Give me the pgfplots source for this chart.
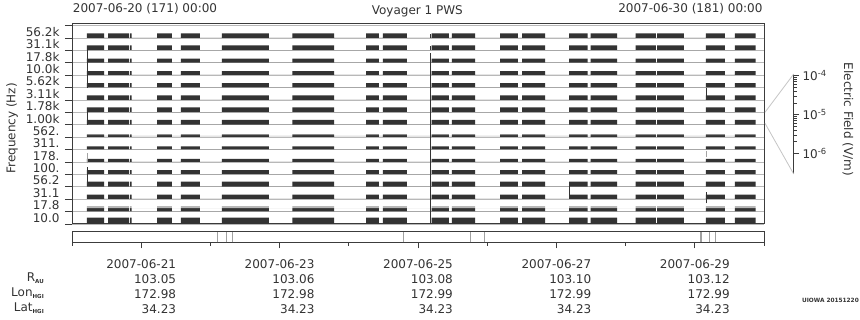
\documentclass[border=0pt]{standalone}
\usepackage{pgfplots}
\pgfplotsset{compat=1.18}
\usepackage{pgfplotstable}
\usepackage{fontspec}
\setmainfont{DejaVu Sans}
\definecolor{barc}{HTML}{333333}
\definecolor{gridc}{HTML}{B8B8B8}
\definecolor{framec}{HTML}{3C3C3C}
\definecolor{txt}{HTML}{333333}
\definecolor{stripc}{HTML}{A0A0A0}
\definecolor{conn}{HTML}{C4C4C4}
\newcommand\sub[1]{\raisebox{-1.5bp}{\fontsize{5.5bp}{6bp}\selectfont\bfseries #1}}
\newcommand\mainfs{\fontsize{12bp}{15bp}\selectfont}

% time in hours since 2007-06-20 00:00 ; on = 1 where the channel has data
\pgfplotstableread{
t on
5.20 0
5.20 1
11.10 1
11.10 0
12.49 0
12.49 1
19.77 1
19.77 0
20.12 0
20.12 1
20.70 1
20.70 0
29.48 0
29.48 1
34.68 1
34.68 0
37.80 0
37.80 1
44.39 1
44.39 0
52.02 0
52.02 1
68.32 1
68.32 0
76.41 0
76.41 1
90.87 1
90.87 0
101.97 0
101.97 1
106.47 1
106.47 0
107.86 0
107.86 1
116.18 1
116.18 0
124.75 0
124.75 1
130.75 1
130.75 0
131.79 0
131.79 1
139.77 1
139.77 0
148.44 0
148.44 1
154.68 1
154.68 0
156.07 0
156.07 1
164.05 1
164.05 0
172.37 0
172.37 1
178.86 1
178.86 0
179.90 0
179.90 1
189.02 1
189.02 0
195.50 0
195.50 1
202.54 1
202.54 0
202.89 0
202.89 1
212.25 1
212.25 0
219.88 0
219.88 1
226.47 1
226.47 0
229.94 0
229.94 1
237.12 1
237.12 0
}\segs

\begin{document}
\begin{tikzpicture}[every node/.append style={text=txt}]
\path[use as bounding box] (0bp,0bp) rectangle (860bp,320bp);

% ---------------- main panel ----------------
\begin{axis}[
  at={(72bp,96bp)}, anchor=south west,
  scale only axis, width=692bp, height=200.7bp,
  xmin=0, xmax=240, ymin=0, ymax=16.19,
  xtick=\empty,
  ytick={0,...,16},
  yticklabels={10.0,17.8,31.1,56.2,100.,178.,311.,562.,1.00k,1.78k,3.11k,5.62k,10.0k,17.8k,31.1k,56.2k,{}},
  yticklabel style={font=\mainfs, yshift=6.2bp, xshift=-2bp},
  ytick pos=left, tick align=outside, major tick length=7bp,
  tick style={framec, line width=0.8bp},
  ymajorgrids, major grid style={gridc, line width=0.8bp},
  axis line style={framec, line width=1bp},
]
\addplot[fill=barc, draw=none] table[x=t, y expr={0.02+0.50*\thisrow{on}}] {\segs};
\addplot[fill=barc, draw=none] table[x=t, y expr={1.02+0.27*\thisrow{on}}] {\segs};
\addplot[fill=barc!35, draw=none] table[x=t, y expr={1.29+0.15*\thisrow{on}}] {\segs};
\addplot[fill=barc, draw=none] table[x=t, y expr={2.02+0.35*\thisrow{on}}] {\segs};
\addplot[fill=barc, draw=none] table[x=t, y expr={3.02+0.40*\thisrow{on}}] {\segs};
\addplot[fill=barc, draw=none] table[x=t, y expr={4.02+0.33*\thisrow{on}}] {\segs};
\addplot[fill=barc, draw=none] table[x=t, y expr={5.02+0.24*\thisrow{on}}] {\segs};
\addplot[fill=barc, draw=none] table[x=t, y expr={6.02+0.24*\thisrow{on}}] {\segs};
\addplot[fill=barc, draw=none] table[x=t, y expr={7.02+0.14*\thisrow{on}}] {\segs};
\addplot[fill=barc!55, draw=none] table[x=t, y expr={7.16+0.08*\thisrow{on}}] {\segs};
\addplot[fill=barc, draw=none] table[x=t, y expr={8.02+0.38*\thisrow{on}}] {\segs};
\addplot[fill=barc, draw=none] table[x=t, y expr={9.02+0.38*\thisrow{on}}] {\segs};
\addplot[fill=barc, draw=none] table[x=t, y expr={10.02+0.35*\thisrow{on}}] {\segs};
\addplot[fill=barc, draw=none] table[x=t, y expr={11.02+0.35*\thisrow{on}}] {\segs};
\addplot[fill=barc, draw=none] table[x=t, y expr={12.02+0.32*\thisrow{on}}] {\segs};
\addplot[fill=barc, draw=none] table[x=t, y expr={13.02+0.32*\thisrow{on}}] {\segs};
\addplot[fill=barc, draw=none] table[x=t, y expr={14.02+0.38*\thisrow{on}}] {\segs};
\addplot[fill=barc, draw=none] table[x=t, y expr={15.02+0.35*\thisrow{on}}] {\segs};
% isolated vertical strokes
\addplot[barc, line width=0.9bp, unbounded coords=jump] coordinates {
 (5.2,11.0) (5.2,14.3) (5.2,nan) (5.2,8.0) (5.2,9.0) (5.2,nan) (5.2,3.3) (5.2,4.6)};
\addplot[barc!45, line width=0.9bp] coordinates {(5.2,4.9) (5.2,5.7)};
\addplot[barc, line width=0.9bp, unbounded coords=jump] coordinates {
 (124.3,0) (124.3,13.8) (124.3,nan) (124.3,14.0) (124.3,14.38) (124.3,nan) (124.3,15.0) (124.3,15.35)};
\addplot[barc, line width=0.9bp, unbounded coords=jump] coordinates {
 (220.0,10.26) (220.0,11.0) (220.0,nan) (220.0,1.67) (220.0,2.6)};
\addplot[barc!45, line width=0.9bp] coordinates {(220.0,5.4) (220.0,5.9)};
\addplot[barc, line width=0.9bp] coordinates {(172.5,2.2) (172.5,3.06)};
\end{axis}

% ---------------- strip panel ----------------
\begin{axis}[
  at={(72bp,77.7bp)}, anchor=south west,
  scale only axis, width=692bp, height=10.6bp,
  xmin=0, xmax=240, ymin=0, ymax=1,
  ytick=\empty,
  xtick={24,72,120,168,216},
  minor xtick={0,48,96,144,192,240},
  xtick pos=left, tick align=outside,
  major tick length=6bp, minor tick length=3.5bp,
  tick style={framec, line width=0.8bp},
  axis line style={framec, line width=1bp},
  xticklabels={
    {2007-06-21\\103.05\\172.98\\34.23},
    {2007-06-23\\103.06\\172.98\\34.23},
    {2007-06-25\\103.08\\172.99\\34.23},
    {2007-06-27\\103.10\\172.99\\34.23},
    {2007-06-29\\103.12\\172.99\\34.23}},
  xticklabel style={align=right, font=\mainfs, anchor=base, yshift=-65.6bp},
]
\addplot[ycomb, stripc, line width=0.8bp] coordinates {
 (50.39,1) (53.65,1) (55.60,1) (114.90,1) (138.28,1) (143.00,1) (221.03,1) (223.25,1)};
\addplot[ycomb, stripc, line width=1.6bp] coordinates {(218.2,1)};
\end{axis}

% ---------------- electric field scale ----------------
\begin{axis}[
  at={(793.7bp,146bp)}, anchor=south east,
  scale only axis, width=10bp, height=100bp,
  xmin=0, xmax=1, ymode=log, ymin=2.93e-7, ymax=1.107e-4,
  hide x axis, axis y line=right,
  axis line style={framec, line width=0.8bp, -},
  tick align=outside, major tick length=5.3bp, minor tick length=3bp,
  tick style={framec, line width=0.6bp},
  ytick={1e-6,1e-5,1e-4},
  yticklabels={10\textsuperscript{-6},10\textsuperscript{-5},10\textsuperscript{-4}},
  yticklabel style={font=\mainfs},
]
\addplot[draw=none] coordinates {(0.5,1e-5)};
\end{axis}

\draw[conn, line width=0.8bp] (765bp,207.7bp) -- (793.7bp,246bp);
\draw[conn, line width=0.8bp] (765bp,196.7bp) -- (793.7bp,146bp);

% ---------------- texts ----------------
\node[font=\mainfs] at (417.3bp,308.7bp) {Voyager 1 PWS};
\node[font=\mainfs, anchor=west, inner sep=0pt] at (72.7bp,311.3bp) {2007-06-20 (171) 00:00};
\node[font=\mainfs, anchor=east, inner sep=0pt] at (762.7bp,311.3bp) {2007-06-30 (181) 00:00};
\node[font=\mainfs, rotate=90, inner sep=0pt] at (12bp,191.7bp) {Frequency (Hz)};
\node[font=\mainfs, rotate=-90, inner sep=0pt] at (847.8bp,200.5bp) {Electric Field (V/m)};
\node[font=\mainfs, anchor=base east, inner sep=0pt] at (44bp,38.3bp) {R\sub{AU}};
\node[font=\mainfs, anchor=base east, inner sep=0pt] at (44bp,23.3bp) {Lon\sub{HGI}};
\node[font=\mainfs, anchor=base east, inner sep=0pt] at (44bp,8.3bp) {Lat\sub{HGI}};
\node[font=\fontsize{5.8bp}{6bp}\selectfont\bfseries, anchor=east, inner sep=0pt] at (859bp,20bp) {UIOWA 20151220};
\end{tikzpicture}
\end{document}
